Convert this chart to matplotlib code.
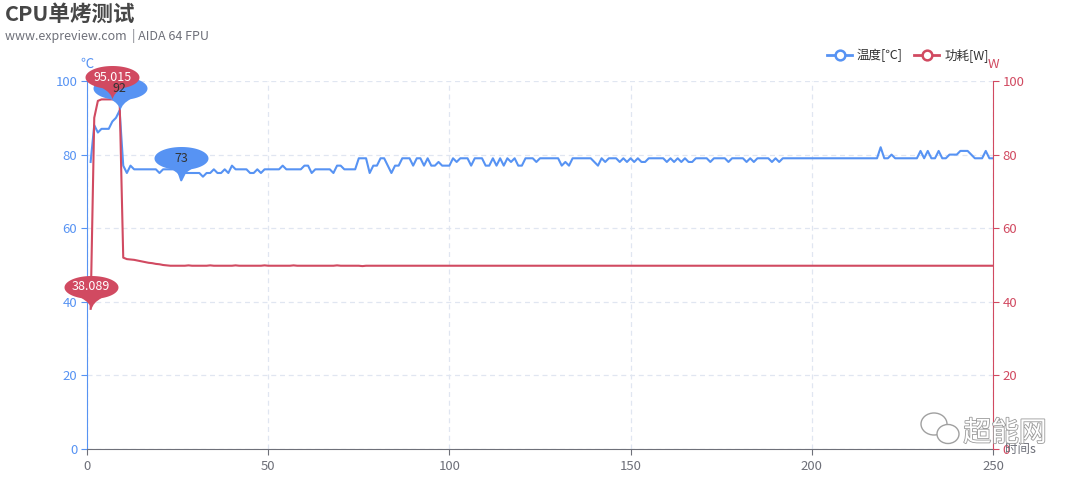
import numpy as np
import matplotlib
matplotlib.use('Agg')
import matplotlib.pyplot as plt
import matplotlib.patheffects as pe
from matplotlib.path import Path
from matplotlib.markers import MarkerStyle
from matplotlib.lines import Line2D
from matplotlib.patches import Ellipse

plt.rcParams['font.family'] = ['Noto Sans CJK SC', 'DejaVu Sans']

BLUE = '#5793f3'
RED = '#d14a61'
GRAY = '#6e7079'

seconds = list(range(1, 251))

temp = [
    78, 88, 86, 87, 87, 87, 89, 90, 92, 77, 75, 77, 76, 76, 76, 76, 76, 76, 76, 75, 76, 76, 76, 76, 76,
    73, 75, 75, 75, 75, 75, 74, 75, 75, 76, 75, 75, 76, 75, 77, 76, 76, 76, 76, 75, 75, 76, 75, 76, 76,
    76, 76, 76, 77, 76, 76, 76, 76, 76, 77, 77, 75, 76, 76, 76, 76, 76, 75, 77, 77, 76, 76, 76, 76, 79,
    79, 79, 75, 77, 77, 79, 79, 77, 75, 77, 77, 79, 79, 79, 77, 79, 79, 77, 79, 77, 77, 78, 77, 77, 77,
    79, 78, 79, 79, 79, 77, 79, 79, 79, 77, 77, 79, 77, 79, 77, 79, 78, 79, 77, 77, 79, 79, 79, 78, 79,
    79, 79, 79, 79, 79, 77, 78, 77, 79, 79, 79, 79, 79, 79, 78, 77, 79, 78, 79, 79, 79, 78, 79, 78, 79,
    78, 79, 78, 78, 79, 79, 79, 79, 79, 78, 79, 78, 79, 78, 79, 78, 78, 79, 79, 79, 79, 78, 79, 79, 79,
    79, 78, 79, 79, 79, 79, 78, 79, 78, 79, 79, 79, 79, 78, 79, 78, 79, 79, 79, 79, 79, 79, 79, 79, 79,
    79, 79, 79, 79, 79, 79, 79, 79, 79, 79, 79, 79, 79, 79, 79, 79, 79, 79, 82, 79, 79, 80, 79, 79, 79,
    79, 79, 79, 79, 81, 79, 81, 79, 79, 81, 79, 79, 80, 80, 80, 81, 81, 81, 80, 79, 79, 79, 81, 79, 79,
]

power = [
    38.089, 90, 94.6, 95, 95, 95, 95.015, 95, 94.8, 52, 51.6, 51.5, 51.4, 51.2, 51.0, 50.8, 50.6, 50.5, 50.3, 50.2, 50.0, 49.9, 49.8, 49.8, 49.8,
    49.8, 49.8, 49.9, 49.8, 49.8, 49.8, 49.8, 49.8, 49.9, 49.8, 49.8, 49.8, 49.8, 49.8, 49.8, 49.9, 49.8, 49.8, 49.8, 49.8, 49.8, 49.8, 49.8, 49.9, 49.8,
    49.8, 49.8, 49.8, 49.8, 49.8, 49.8, 49.9, 49.8, 49.8, 49.8, 49.8, 49.8, 49.8, 49.8, 49.8, 49.8, 49.8, 49.8, 49.9, 49.8, 49.8, 49.8, 49.8, 49.8, 49.8,
    49.7, 49.8, 49.8, 49.8, 49.8, 49.8, 49.8, 49.8, 49.8, 49.8, 49.8, 49.8, 49.8, 49.8, 49.8, 49.8, 49.8, 49.8, 49.8, 49.8, 49.8, 49.8, 49.8, 49.8, 49.8,
    49.8, 49.8, 49.8, 49.8, 49.8, 49.8, 49.8, 49.8, 49.8, 49.8, 49.8, 49.8, 49.8, 49.8, 49.8, 49.8, 49.8, 49.8, 49.8, 49.8, 49.8, 49.8, 49.8, 49.8, 49.8,
    49.8, 49.8, 49.8, 49.8, 49.8, 49.8, 49.8, 49.8, 49.8, 49.8, 49.8, 49.8, 49.8, 49.8, 49.8, 49.8, 49.8, 49.8, 49.8, 49.8, 49.8, 49.8, 49.8, 49.8, 49.8,
    49.8, 49.8, 49.8, 49.8, 49.8, 49.8, 49.8, 49.8, 49.8, 49.8, 49.8, 49.8, 49.8, 49.8, 49.8, 49.8, 49.8, 49.8, 49.8, 49.8, 49.8, 49.8, 49.8, 49.8, 49.8,
    49.8, 49.8, 49.8, 49.8, 49.8, 49.8, 49.8, 49.8, 49.8, 49.8, 49.8, 49.8, 49.8, 49.8, 49.8, 49.8, 49.8, 49.8, 49.8, 49.8, 49.8, 49.8, 49.8, 49.8, 49.8,
    49.8, 49.8, 49.8, 49.8, 49.8, 49.8, 49.8, 49.8, 49.8, 49.8, 49.8, 49.8, 49.8, 49.8, 49.8, 49.8, 49.8, 49.8, 49.8, 49.8, 49.8, 49.8, 49.8, 49.8, 49.8,
    49.8, 49.8, 49.8, 49.8, 49.8, 49.8, 49.8, 49.8, 49.8, 49.8, 49.8, 49.8, 49.8, 49.8, 49.8, 49.8, 49.8, 49.8, 49.8, 49.8, 49.8, 49.8, 49.8, 49.8, 49.8,
]

x_ticks = [0, 50, 100, 150, 200, 250]
y_ticks = [0, 20, 40, 60, 80, 100]


def pin_path(a=27, b=11.5, cy=22):
    # echarts-like pin: wide ellipse with a narrow neck down to the tip at (0, 0)
    th = np.radians(np.linspace(-68, 248, 70))
    pts = [(a * np.cos(t), cy + b * np.sin(t)) for t in th]
    verts = [(0, 0), (1.5, 7), pts[0]] + pts[1:] + [(-1.5, 7), (0, 0), (0, 0)]
    codes = [Path.MOVETO, Path.CURVE3, Path.CURVE3] + [Path.LINETO] * (len(pts) - 1) + \
            [Path.CURVE3, Path.CURVE3, Path.CLOSEPOLY]
    return Path(verts, codes)


PIN = pin_path()
PIN_MS = 2 * np.max(np.abs(PIN.vertices)) * 72 / 100
PIN_OFF = 22 * 72 / 100

fig = plt.figure(figsize=(10.8, 4.8), dpi=100)
ax = fig.add_axes([87 / 1080, 1 - 449 / 480, 906 / 1080, 368 / 480])
ax2 = ax.twinx()

ax.plot(seconds, temp, color=BLUE, lw=1.5, zorder=3)
ax2.plot(seconds, power, color=RED, lw=1.5, zorder=3)

ax.set_xlim(0, 250)
ax.set_ylim(0, 100)
ax2.set_ylim(0, 100)
ax.set_xticks(x_ticks)
ax.set_yticks(y_ticks)
ax2.set_yticks(y_ticks)

ax.grid(True, color='#e0e6f1', linestyle=(0, (4, 3)), lw=0.9)
ax.set_axisbelow(True)

for s in ['top', 'right']:
    ax.spines[s].set_visible(False)
for s in ['top', 'left', 'bottom']:
    ax2.spines[s].set_visible(False)
ax.spines['left'].set_color(BLUE)
ax.spines['bottom'].set_color(GRAY)
ax2.spines['right'].set_color(RED)

ax.tick_params(axis='x', colors=GRAY, labelsize=9.5, length=4, pad=4)
ax.tick_params(axis='y', colors=BLUE, labelsize=9.5, length=4, pad=3)
ax2.tick_params(axis='y', colors=RED, labelsize=9.5, length=4, pad=3)

# markPoint pins for max / min (both y axes run 0-100, so all pins go on ax2 to sit on top)
marks = []
for series, color, txt_color in [(temp, BLUE, '#333333'), (power, RED, 'white')]:
    for idx in [int(np.argmax(series)), int(np.argmin(series))]:
        ax2.plot(seconds[idx], series[idx], marker=MarkerStyle(PIN), ms=PIN_MS,
                 color=color, mec='none', ls='none', zorder=5, clip_on=False)
        marks.append((seconds[idx], series[idx], txt_color))
for xv, yv, tc in marks:
    label = f'{yv:g}' if yv != int(yv) else str(int(yv))
    ax2.annotate(label, (xv, yv), xytext=(0, PIN_OFF), textcoords='offset points',
                 ha='center', va='center', fontsize=9, color=tc, zorder=10,
                 annotation_clip=False)

# axis names
fig.text(87 / 1080, 1 - 64 / 480, '℃', color=BLUE, fontsize=9.5, ha='center', va='center')
fig.text(993 / 1080, 1 - 65 / 480, 'W', color=RED, fontsize=9.5, ha='center', va='center')
fig.text(1005 / 1080, 1 - 450 / 480, '时间s', color=GRAY, fontsize=9, ha='left', va='center')

# titles
fig.text(5 / 1080, 1 - 14 / 480, 'CPU单烤测试', fontsize=15.5, fontweight='bold',
         color='#464646', ha='left', va='center')
fig.text(5 / 1080, 1 - 36 / 480, 'www.expreview.com  | AIDA 64 FPU', fontsize=9,
         color='#6e7079', ha='left', va='center')

# legend
handles = [Line2D([], [], color=BLUE, lw=2, marker='o', ms=7, mfc='white', mew=1.8),
           Line2D([], [], color=RED, lw=2, marker='o', ms=7, mfc='white', mew=1.8)]
fig.legend(handles, ['温度[℃]', '功耗[W]'], loc='center right',
           bbox_to_anchor=(1000 / 1080, 1 - 55 / 480), ncol=2, frameon=False,
           fontsize=9, handlelength=2.0, handletextpad=0.4, columnspacing=0.9,
           labelcolor='#333333')

# watermark
wm = fig.text(1005 / 1080, 1 - 433 / 480, '超能网', fontsize=20, color='white',
              ha='center', va='center', zorder=20)
wm.set_path_effects([pe.withStroke(linewidth=1.2, foreground='#9a9a9a')])
for cx, cy, w, h in [(934, 424, 26, 22), (948, 434, 22, 19)]:
    fig.patches.append(Ellipse((cx / 1080, 1 - cy / 480), w / 1080, h / 480,
                               transform=fig.transFigure, facecolor='white',
                               edgecolor='#a0a0a0', lw=1, zorder=19))

fig.savefig('out.png', dpi=100)
